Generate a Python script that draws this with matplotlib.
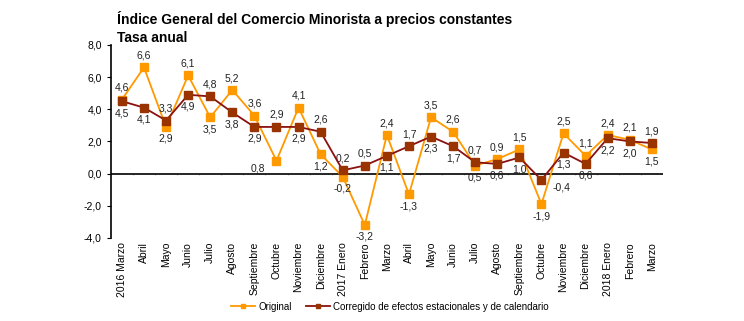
import numpy as np
import matplotlib
matplotlib.use('Agg')
import matplotlib.pyplot as plt
from matplotlib.ticker import FuncFormatter

plt.rcParams['font.family'] = ['Liberation Sans', 'DejaVu Sans']

# meses de marzo 2016 a marzo 2018
meses = ['2016 Marzo', 'Abril', 'Mayo', 'Junio', 'Julio', 'Agosto', 'Septiembre',
         'Octubre', 'Noviembre', 'Diciembre', '2017 Enero', 'Febrero', 'Marzo',
         'Abril', 'Mayo', 'Junio', 'Julio', 'Agosto', 'Septiembre', 'Octubre',
         'Noviembre', 'Diciembre', '2018 Enero', 'Febrero', 'Marzo']
original = [4.6, 6.6, 2.9, 6.1, 3.5, 5.2, 3.6, 0.8, 4.1, 1.2, -0.2, -3.2, 2.4,
            -1.3, 3.5, 2.6, 0.5, 0.9, 1.5, -1.9, 2.5, 1.1, 2.4, 2.1, 1.5]
corregido = [4.5, 4.1, 3.3, 4.9, 4.8, 3.8, 2.9, 2.9, 2.9, 2.6, 0.2, 0.5, 1.1,
             1.7, 2.3, 1.7, 0.7, 0.6, 1.0, -0.4, 1.3, 0.6, 2.2, 2.0, 1.9]
yticks = [-4, -2, 0, 2, 4, 6, 8]

c_orig = '#FF9900'
c_corr_line = '#8B1010'
c_corr_mark = '#993300'

fig = plt.figure(figsize=(7.44, 3.21), dpi=100)
ax = fig.add_axes([0.149, 0.259, 0.742, 0.601])

x = np.arange(len(meses))
ax.plot(x, original, color=c_orig, lw=1.3, marker='s', ms=6,
        mfc=c_orig, mec=c_orig, label='Original', zorder=3)
ax.plot(x, corregido, color=c_corr_line, lw=1.3, marker='s', ms=6,
        mfc=c_corr_mark, mec=c_corr_mark,
        label='Corregido de efectos estacionales y de calendario', zorder=4)

fmt = lambda v: f'{v:.1f}'.replace('.', ',')

# etiquetas a un lado en vez de arriba/abajo: (serie, indice) -> offset
lado = {('o', 7): (-8, 'right'), ('c', 19): (8, 'left')}

# etiquetas: la serie mas alta encima, la mas baja debajo
for i in x:
    o, c = original[i], corregido[i]
    for key, v, high in (('o', o, o > c), ('c', c, c >= o)):
        if (key, i) in lado:
            dx, ha = lado[(key, i)]
            dy, va = -2, 'top'
        else:
            dx, ha = 0, 'center'
            dy, va = (5, 'bottom') if high else (-5, 'top')
        ax.annotate(fmt(v), (i, v), xytext=(dx, dy), textcoords='offset points',
                    ha=ha, va=va, fontsize=7.5, color='#222222')

ax.set_xlim(-0.5, len(meses) - 0.5)
ax.set_ylim(-4, 8)
ax.set_yticks(yticks)
ax.yaxis.set_major_formatter(FuncFormatter(lambda v, p: fmt(v)))
ax.set_xticks(x)
ax.set_xticklabels(meses, rotation=90, fontsize=7.5)
ax.tick_params(axis='x', length=0, pad=3)
ax.tick_params(axis='y', labelsize=7.5, length=3, direction='out')

for s in ['top', 'right', 'bottom']:
    ax.spines[s].set_visible(False)
ax.spines['left'].set_linewidth(1.2)
ax.axhline(0, color='black', lw=1.2, zorder=2)
ax.vlines(x[:-1] + 0.5, -0.12, 0, color='#BBBBBB', lw=0.8, zorder=1)

fig.text(0.157, 0.965, 'Índice General del Comercio Minorista a precios constantes\nTasa anual',
         fontsize=10, fontweight='bold', ha='left', va='top', linespacing=1.3)

fig.legend(loc='center', bbox_to_anchor=(0.524, 0.044), ncol=2, frameon=False,
           fontsize=7, handlelength=2.5, markerscale=0.6, columnspacing=1.5,
           handletextpad=0.3)

plt.savefig('out.png', dpi=100)
